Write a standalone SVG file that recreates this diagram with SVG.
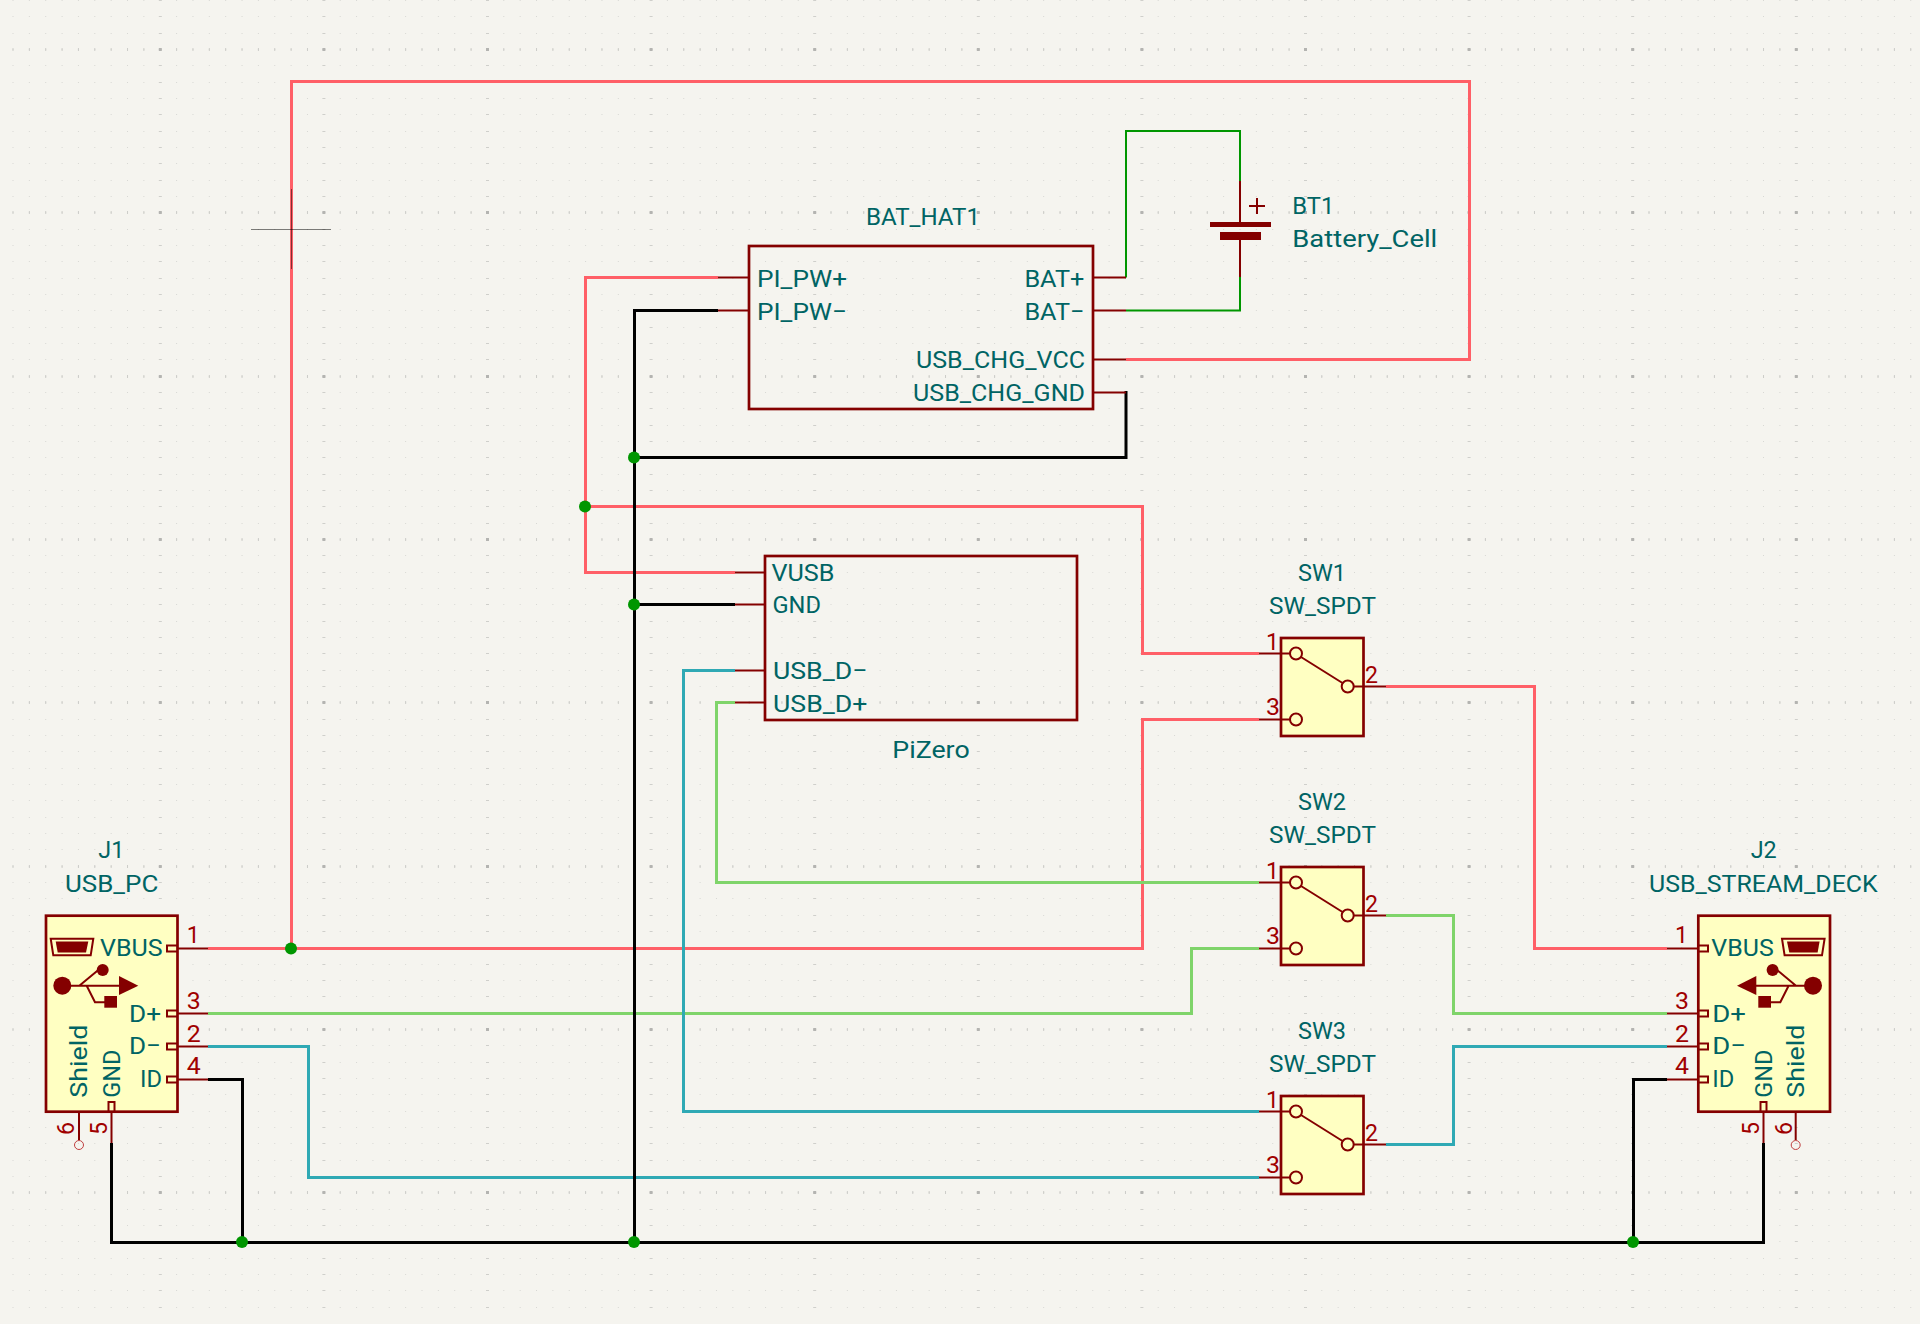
<svg xmlns="http://www.w3.org/2000/svg" xmlns:xlink="http://www.w3.org/1999/xlink" width="1920" height="1324" viewBox="0 0 1920 1324">
<style>
text{font-family:"Roboto","Noto Sans",sans-serif;font-weight:400;font-size:24.5px;fill:#006464}
.n{fill:#a00000}
.w{fill:none;stroke-width:3;stroke-linejoin:miter}
.pk{stroke:#ff5f67}.gn{stroke:#7fd46a}.tl{stroke:#2fa9b4}.bk{stroke:#000}.dg{stroke:#009600;stroke-width:2}
.p{fill:none;stroke:#840000;stroke-width:2}
.b{stroke:#840000;stroke-width:2.7;fill:none}
.y{stroke:#840000;stroke-width:2.7;fill:#ffffc2}
.f{fill:#840000;stroke:none}
.j{fill:#009600}
.o{fill:none;stroke:#c04040;stroke-width:1}
.grid line{shape-rendering:crispEdges}
.g1{stroke:#d8d8d4;stroke-width:1;stroke-dasharray:1 15.36;stroke-dashoffset:3.86}
.g2{stroke:#cfcfcb;stroke-width:1;stroke-dasharray:3 160.6;stroke-dashoffset:4.8}
.g3{stroke:#cdcdc9;stroke-width:3;stroke-dasharray:1 15.36;stroke-dashoffset:3.86}
.g4{stroke:#b4b4b1;stroke-width:3;stroke-dasharray:3 160.6;stroke-dashoffset:4.8}
</style>
<defs>
<g id="r1"><line x1="0" x2="1920" y1="0.5" y2="0.5"/><line x1="0" x2="1920" y1="16.5" y2="16.5"/><line x1="0" x2="1920" y1="33.5" y2="33.5"/></g>
<g id="r2"><use href="#r1"/><use href="#r1" y="49"/><use href="#r1" y="98"/></g>
<g id="r3"><use href="#r2"/><use href="#r2" y="147"/><use href="#r2" y="294"/></g>
<g id="rows"><use href="#r3"/><use href="#r3" y="441"/><use href="#r3" y="882"/></g>
<g id="majors"><line x1="0" x2="1920" y1="49.5" y2="49.5"/><line x1="0" x2="1920" y1="212.5" y2="212.5"/><line x1="0" x2="1920" y1="376.5" y2="376.5"/><line x1="0" x2="1920" y1="539.5" y2="539.5"/><line x1="0" x2="1920" y1="702.5" y2="702.5"/><line x1="0" x2="1920" y1="866.5" y2="866.5"/><line x1="0" x2="1920" y1="1029.5" y2="1029.5"/><line x1="0" x2="1920" y1="1192.5" y2="1192.5"/></g>
<g id="sw-sym">
<rect class="y" x="1281" y="638" width="82.5" height="98"/>
<path class="p" d="M1259 653.5H1290M1259 719.5H1290M1354 686.5H1386M1301 657L1342.500 683"/>
<circle class="p" cx="1296" cy="653.5" r="6"/><circle class="p" cx="1296" cy="719.500" r="6"/><circle class="p" cx="1347.700" cy="686.500" r="6"/>
</g>
<g id="usb-icon">
<path class="p" stroke-width="1.500" d="M50.700 938.700H93.300L90.700 955.300H53.300Z"/>
<path class="f" d="M55.700 941.500H88.300L86 952.500H57.700Z"/>
<circle class="f" cx="62.300" cy="985.700" r="9"/>
<path class="f" d="M119 976L138.300 985.700L119 995Z"/>
<path class="p" d="M62 985.700H120M79.300 985.700L98.300 970M86.700 985.700L95 1002.300H105"/>
<circle class="f" cx="102.700" cy="970" r="6"/>
<rect class="f" x="104.300" y="996" width="12.700" height="11.700"/>
</g>
</defs>
<rect width="1920" height="1324" fill="#f5f4ef"/>
<g class="grid">
<use href="#rows" class="g1"/><use href="#rows" class="g2"/><use href="#majors" class="g3"/><use href="#majors" class="g4"/>
</g>
<g id="connectors">
<path class="w pk" d="M291.500 948.500V81.500H1469.500V359.500H1126"/>
<path class="w pk" d="M208 948.500H1142.500V719.500H1259"/>
<path class="w pk" d="M718 277.500H585.500V572.500H735"/>
<path class="w pk" d="M585.500 506.500H1142.500V653.500H1259"/>
<path class="w pk" d="M1386 686.500H1534.500V948.500H1667"/>
<path class="w gn" d="M735 702.500H716.500V882.500H1259"/>
<path class="w gn" d="M208 1013.500H1191.500V948.500H1259"/>
<path class="w gn" d="M1386 915.500H1453.500V1013.500H1667"/>
<path class="w tl" d="M735 670.500H683.500V1111.500H1259"/>
<path class="w tl" d="M208 1046.500H308.500V1177.500H1259"/>
<path class="w tl" d="M1386 1144.500H1453.500V1046.500H1667"/>
<path class="w dg" d="M1126 277.500V131H1240V181"/>
<path class="w dg" d="M1126 310.500H1240V277"/>
<path class="w bk" d="M718 310.500H634.500V1242"/>
<path class="w bk" d="M634.500 457.500H1126V391"/>
<path class="w bk" d="M634.500 604.500H735"/>
<path class="w bk" d="M208 1079.500H242.500V1242"/>
<path class="w bk" d="M111.500 1143V1242.500H1763.500V1143"/>
<path class="w bk" d="M1667 1079.500H1633.500V1242"/>
<circle class="j" cx="291" cy="948.500" r="6"/><circle class="j" cx="585" cy="506.500" r="6"/><circle class="j" cx="634" cy="457.500" r="6"/><circle class="j" cx="634" cy="604.500" r="6"/><circle class="j" cx="242" cy="1242" r="6"/><circle class="j" cx="634" cy="1242" r="6"/><circle class="j" cx="1633" cy="1242" r="6"/>
</g>
<g id="BAT_HAT1">
<rect class="b" x="749" y="246" width="344" height="163"/>
<path class="p" d="M718 277.500H749M718 310.500H749M1093 277.500H1126M1093 310.500H1126M1093 359.500H1126M1093 392.500H1126"/>
<text x="866" y="224.700" textLength="114" lengthAdjust="spacingAndGlyphs">BAT_HAT1</text>
<text x="757" y="286.700" textLength="90" lengthAdjust="spacingAndGlyphs">PI_PW+</text>
<text x="757" y="319.700" textLength="90" lengthAdjust="spacingAndGlyphs">PI_PW−</text>
<text x="1024.400" y="286.700" textLength="60" lengthAdjust="spacingAndGlyphs">BAT+</text>
<text x="1024.400" y="319.700" textLength="60" lengthAdjust="spacingAndGlyphs">BAT−</text>
<text x="916" y="368.300" textLength="169" lengthAdjust="spacingAndGlyphs">USB_CHG_VCC</text>
<text x="913" y="400.700" textLength="172" lengthAdjust="spacingAndGlyphs">USB_CHG_GND</text>
</g>
<g id="BT1">
<path class="p" d="M1240 181V222M1240 240V277M1257 198V214M1249 206H1265" stroke-width="2.500"/>
<rect class="f" x="1210" y="222" width="61" height="5"/>
<rect class="f" x="1220" y="232" width="41" height="8"/>
<text x="1292.300" y="214" textLength="42" lengthAdjust="spacingAndGlyphs">BT1</text>
<text x="1292.300" y="246.700" textLength="145" lengthAdjust="spacingAndGlyphs">Battery_Cell</text>
</g>
<g id="PiZero">
<rect class="b" x="765" y="556" width="312" height="164"/>
<path class="p" d="M735 572.500H765M735 604.500H765M735 670.500H765M735 702.500H765"/>
<text x="771.500" y="580.700" textLength="63" lengthAdjust="spacingAndGlyphs">VUSB</text>
<text x="772.500" y="613.300" textLength="48.500" lengthAdjust="spacingAndGlyphs">GND</text>
<text x="773" y="679" textLength="94.500" lengthAdjust="spacingAndGlyphs">USB_D−</text>
<text x="773" y="711.700" textLength="94.500" lengthAdjust="spacingAndGlyphs">USB_D+</text>
<text x="892.300" y="757.700" textLength="77.400" lengthAdjust="spacingAndGlyphs">PiZero</text>
</g>
<g id="SW1">
<use href="#sw-sym"/>
<text x="1298" y="580.700" textLength="48" lengthAdjust="spacingAndGlyphs">SW1</text>
<text x="1269" y="614" textLength="107" lengthAdjust="spacingAndGlyphs">SW_SPDT</text>
<text class="n" x="1266" y="650" textLength="13" lengthAdjust="spacingAndGlyphs">1</text>
<text class="n" x="1266" y="715" textLength="14" lengthAdjust="spacingAndGlyphs">3</text>
<text class="n" x="1365" y="682.700" textLength="13" lengthAdjust="spacingAndGlyphs">2</text>
</g>
<g id="SW2">
<use href="#sw-sym" y="229"/>
<text x="1298" y="809.700" textLength="48" lengthAdjust="spacingAndGlyphs">SW2</text>
<text x="1269" y="843" textLength="107" lengthAdjust="spacingAndGlyphs">SW_SPDT</text>
<text class="n" x="1266" y="879" textLength="13" lengthAdjust="spacingAndGlyphs">1</text>
<text class="n" x="1266" y="944" textLength="14" lengthAdjust="spacingAndGlyphs">3</text>
<text class="n" x="1365" y="911.700" textLength="13" lengthAdjust="spacingAndGlyphs">2</text>
</g>
<g id="SW3">
<use href="#sw-sym" y="458"/>
<text x="1298" y="1038.700" textLength="48" lengthAdjust="spacingAndGlyphs">SW3</text>
<text x="1269" y="1072" textLength="107" lengthAdjust="spacingAndGlyphs">SW_SPDT</text>
<text class="n" x="1266" y="1108" textLength="13" lengthAdjust="spacingAndGlyphs">1</text>
<text class="n" x="1266" y="1173" textLength="14" lengthAdjust="spacingAndGlyphs">3</text>
<text class="n" x="1365" y="1140.700" textLength="13" lengthAdjust="spacingAndGlyphs">2</text>
</g>
<g id="J1">
<rect class="y" x="46" y="915.700" width="131.500" height="196"/>
<use href="#usb-icon"/>
<path class="p" d="M177 948.500H208M177 1013.500H208M177 1046.500H208M177 1079.500H208M79 1112V1140M111.500 1112V1143"/>
<path class="p" d="M177 945.500H167V951.500H177M177 1010.500H167V1016.500H177M177 1043.500H167V1049.500H177M177 1076.500H167V1082.500H177M108.500 1112V1102H114.500V1112"/>
<circle class="o" cx="79" cy="1145" r="4.500"/>
<text x="98.300" y="858.300" textLength="26" lengthAdjust="spacingAndGlyphs">J1</text>
<text x="65" y="891.700" textLength="93.300" lengthAdjust="spacingAndGlyphs">USB_PC</text>
<text x="100" y="956" textLength="62.700" lengthAdjust="spacingAndGlyphs">VBUS</text>
<text x="129" y="1021.700" textLength="32" lengthAdjust="spacingAndGlyphs">D+</text>
<text x="129" y="1054.300" textLength="32" lengthAdjust="spacingAndGlyphs">D−</text>
<text x="140" y="1086.700" textLength="22" lengthAdjust="spacingAndGlyphs">ID</text>
<text transform="translate(87.300 1097.700) rotate(-90)" textLength="73" lengthAdjust="spacingAndGlyphs">Shield</text>
<text transform="translate(120 1097.700) rotate(-90)" textLength="48" lengthAdjust="spacingAndGlyphs">GND</text>
<text class="n" x="186.700" y="943.300" textLength="13" lengthAdjust="spacingAndGlyphs">1</text>
<text class="n" x="186.700" y="1009" textLength="14" lengthAdjust="spacingAndGlyphs">3</text>
<text class="n" x="186.700" y="1041.700" textLength="14" lengthAdjust="spacingAndGlyphs">2</text>
<text class="n" x="186.700" y="1074" textLength="14" lengthAdjust="spacingAndGlyphs">4</text>
<text class="n" transform="translate(74 1135) rotate(-90)" textLength="13" lengthAdjust="spacingAndGlyphs">6</text>
<text class="n" transform="translate(107.300 1135) rotate(-90)" textLength="13" lengthAdjust="spacingAndGlyphs">5</text>
</g>
<g id="J2">
<rect class="y" x="1698.300" y="915.700" width="131.700" height="196"/>
<use href="#usb-icon" transform="translate(1875.300 0) scale(-1 1)"/>
<path class="p" d="M1667 948.500H1698M1667 1013.500H1698M1667 1046.500H1698M1667 1079.500H1698M1795.700 1112V1140M1763.500 1112V1143"/>
<path class="p" d="M1698 945.500H1708V951.500H1698M1698 1010.500H1708V1016.500H1698M1698 1043.500H1708V1049.500H1698M1698 1076.500H1708V1082.500H1698M1760.500 1112V1102H1766.500V1112"/>
<circle class="o" cx="1795.700" cy="1145" r="4.500"/>
<text x="1750.700" y="858.300" textLength="26" lengthAdjust="spacingAndGlyphs">J2</text>
<text x="1649" y="891.700" textLength="228.700" lengthAdjust="spacingAndGlyphs">USB_STREAM_DECK</text>
<text x="1711.300" y="956" textLength="62.400" lengthAdjust="spacingAndGlyphs">VBUS</text>
<text x="1712.300" y="1021.700" textLength="33.700" lengthAdjust="spacingAndGlyphs">D+</text>
<text x="1712.300" y="1054.300" textLength="33.700" lengthAdjust="spacingAndGlyphs">D−</text>
<text x="1712.300" y="1086.700" textLength="22" lengthAdjust="spacingAndGlyphs">ID</text>
<text transform="translate(1772.300 1097.700) rotate(-90)" textLength="48" lengthAdjust="spacingAndGlyphs">GND</text>
<text transform="translate(1804.300 1097.700) rotate(-90)" textLength="73" lengthAdjust="spacingAndGlyphs">Shield</text>
<text class="n" x="1675" y="943.300" textLength="13" lengthAdjust="spacingAndGlyphs">1</text>
<text class="n" x="1675" y="1009" textLength="14" lengthAdjust="spacingAndGlyphs">3</text>
<text class="n" x="1675" y="1041.700" textLength="14" lengthAdjust="spacingAndGlyphs">2</text>
<text class="n" x="1675" y="1074" textLength="14" lengthAdjust="spacingAndGlyphs">4</text>
<text class="n" transform="translate(1759 1135) rotate(-90)" textLength="13" lengthAdjust="spacingAndGlyphs">5</text>
<text class="n" transform="translate(1791.700 1135) rotate(-90)" textLength="13" lengthAdjust="spacingAndGlyphs">6</text>
</g>
<g id="crosshair" stroke="#000" stroke-opacity="0.5" stroke-width="1">
<path d="M251 229.500H331M291.500 189V269"/>
</g>
</svg>
